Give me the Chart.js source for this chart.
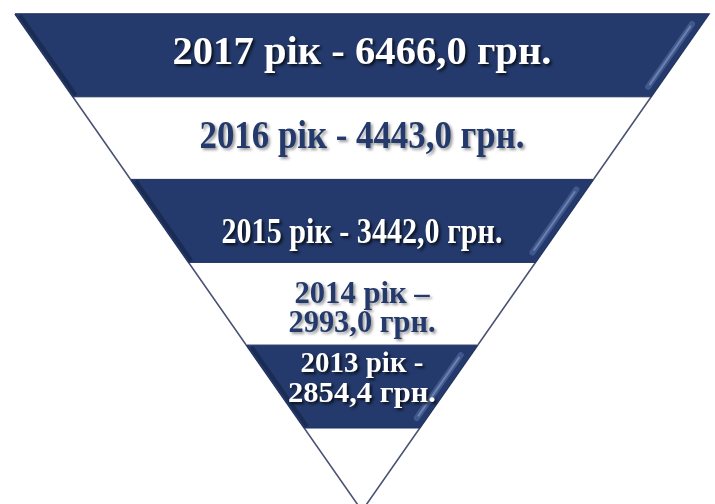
<!DOCTYPE html>
<html>
<head>
<meta charset="utf-8">
<script src="https://cdn.jsdelivr.net/npm/chart.js@4.4.1/dist/chart.umd.min.js"></script>
<style>
  body { margin: 0; background: #ffffff; }
  #wrap { width: 715px; height: 504px; position: relative; }
</style>
</head>
<body>
<div id="wrap"><canvas id="funnel"></canvas></div>
<script>
// data, top band first
var years = ['2017', '2016', '2015', '2014', '2013'];
var amounts = [6466.0, 4443.0, 3442.0, 2993.0, 2854.4];
var dashes = ['-', '-', '-', '\u2013', '-'];
var dark = [true, false, true, false, true];

// layout of the picture (pixels)
var W = 715, H = 504;
var topPx = 14, bandPx = 82.8, centerPx = 362, halfTopPx = 347;
var levels = 6; // apex sits one band below the last one

// text: font size, [baseline in band units, width in px] per line
var labelLayout = [
  { size: 40, lines: [[0.604, 379]] },
  { size: 40, lines: [[1.618, 325]] },
  { size: 35, lines: [[2.766, 281]] },
  { size: 31, lines: [[3.490, 135], [3.841, 147]] },
  { size: 30, lines: [[4.324, 123], [4.686, 148]] }
];

var navy = '#243a6c';

function half(y) { return 1 - y / levels; }

function shape(y0, y1) {
  return [
    { x: -half(y0), y: y0 }, { x: half(y0), y: y0 },
    { x: half(y1), y: y1 }, { x: -half(y1), y: y1 },
    { x: -half(y0), y: y0 }
  ];
}

function fmt(v) { return v.toFixed(1).replace('.', ','); }

var datasets = [];

// outline of the whole triangle
datasets.push({
  data: [{ x: -1, y: 0 }, { x: 1, y: 0 }, { x: 0, y: levels }, { x: -1, y: 0 }],
  borderColor: '#4b5273',
  borderWidth: 1.6,
  backgroundColor: '#ffffff',
  fill: 'shape',
  order: 10
});

for (var i = 0; i < years.length; i++) {
  if (!dark[i]) {
    // thin separator under a white band
    datasets.push({
      data: [{ x: -half(i + 1), y: i + 1 }, { x: half(i + 1), y: i + 1 }],
      borderColor: '#c9ced8',
      borderWidth: 2,
      fill: false,
      order: 9
    });
    continue;
  }
  datasets.push({
    data: shape(i, i + 1),
    borderColor: '#1f3360',
    borderWidth: 1,
    backgroundColor: navy,
    fill: 'shape',
    order: 5
  });
  // glossy edge on the right side
  var inset = 10 / halfTopPx;
  datasets.push({
    data: [
      { x: half(i + 0.12) - inset, y: i + 0.12 },
      { x: half(i + 0.88) - inset, y: i + 0.88 }
    ],
    borderColor: 'rgba(120,145,200,0.35)',
    borderWidth: 6,
    borderCapStyle: 'round',
    fill: false,
    order: 3
  });
  datasets.push({
    data: [
      { x: half(i + 0.15) - inset, y: i + 0.15 },
      { x: half(i + 0.85) - inset, y: i + 0.85 }
    ],
    borderColor: 'rgba(170,190,230,0.4)',
    borderWidth: 2,
    borderCapStyle: 'round',
    fill: false,
    order: 2
  });
  // shadow on the left side
  datasets.push({
    data: [
      { x: -half(i + 0.02) + 4 / halfTopPx, y: i + 0.02 },
      { x: -half(i + 0.98) + 4 / halfTopPx, y: i + 0.98 }
    ],
    borderColor: 'rgba(15,30,60,0.5)',
    borderWidth: 4,
    fill: false,
    order: 2
  });
}

var labelPlugin = {
  id: 'bandLabels',
  afterDatasetsDraw: function(chart) {
    var ctx = chart.ctx;
    var xs = chart.scales.x, ys = chart.scales.y;
    var cx = xs.getPixelForValue(0);
    for (var i = 0; i < years.length; i++) {
      var head = years[i] + ' рік ' + dashes[i];
      var tail = fmt(amounts[i]) + ' грн.';
      var lay = labelLayout[i];
      var lines = lay.lines.length === 2 ? [head, tail] : [head + ' ' + tail];
      ctx.save();
      ctx.font = 'bold ' + lay.size + 'px "Liberation Serif", "Times New Roman", serif';
      ctx.textAlign = 'center';
      ctx.textBaseline = 'alphabetic';
      if (dark[i]) {
        ctx.fillStyle = '#ffffff';
        ctx.shadowColor = 'rgba(0,0,0,0.75)';
      } else {
        ctx.fillStyle = navy;
        ctx.shadowColor = 'rgba(0,0,0,0.4)';
      }
      ctx.shadowOffsetX = 2;
      ctx.shadowOffsetY = 2;
      ctx.shadowBlur = 3;
      for (var j = 0; j < lines.length; j++) {
        var w = ctx.measureText(lines[j]).width;
        var sx = lay.lines[j][1] / w;
        ctx.save();
        ctx.translate(cx, ys.getPixelForValue(lay.lines[j][0]));
        ctx.scale(sx, 1);
        ctx.fillText(lines[j], 0, 0);
        ctx.restore();
      }
      ctx.restore();
    }
  }
};

var ctx = document.getElementById('funnel');
var chart = new Chart(ctx, {
  type: 'scatter',
  data: { datasets: datasets },
  options: {
    responsive: true,
    maintainAspectRatio: false,
    animation: false,
    events: [],
    layout: { padding: 0 },
    elements: {
      line: { tension: 0 },
      point: { radius: 0, hoverRadius: 0 }
    },
    datasets: { scatter: { showLine: true } },
    scales: {
      x: {
        type: 'linear', display: false,
        min: -centerPx / halfTopPx, max: (W - centerPx) / halfTopPx
      },
      y: {
        type: 'linear', display: false, reverse: true,
        min: -topPx / bandPx, max: (H - topPx) / bandPx
      }
    },
    plugins: {
      legend: { display: false },
      title: { display: false },
      tooltip: { enabled: false }
    }
  },
  plugins: [labelPlugin]
});
</script>
</body>
</html>
